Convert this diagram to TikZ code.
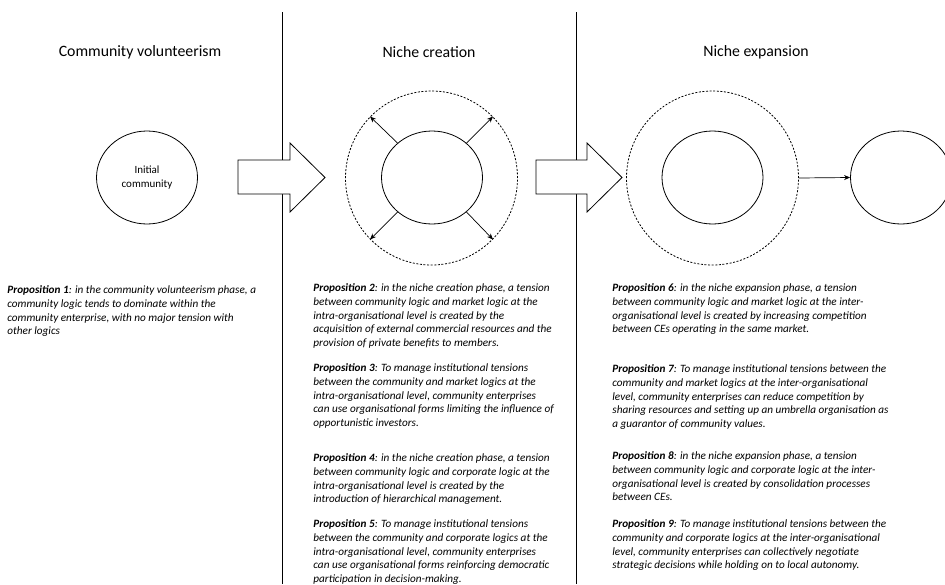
\documentclass[tikz,border=0pt]{standalone}
\usepackage{fontspec}
\setmainfont{Carlito}
\usetikzlibrary{shapes.geometric,arrows.meta}
\begin{document}
\begin{tikzpicture}[x=1pt,y=-1pt,
  line width=0.8pt,
  title/.style={font=\fontsize{15.8}{18}\selectfont, inner sep=0pt},
  prop/.style={anchor=north west, inner sep=0pt, align=left, font=\fontsize{11.2}{13.65}\selectfont\itshape},
  circ/.style={draw, ellipse, minimum width=101pt, minimum height=93pt, inner sep=0pt},
  dcirc/.style={draw, ellipse, dash pattern=on 2pt off 1.6pt, minimum width=172pt, minimum height=174pt, inner sep=0pt},
  growarrow/.style={-{Stealth[length=6pt,width=5pt]}, line width=0.7pt},
  blockarrow/.style={draw, fill=white, line width=0.8pt}
]
\useasboundingbox (0,0) rectangle (945,584);
% divider lines
\coordinate (l1t) at (282,12); \coordinate (l1b) at (282,584);
\coordinate (l2t) at (576,12); \coordinate (l2b) at (576,584);
\draw (l1t) -- (l1b);
\draw (l2t) -- (l2b);
% titles
\node[title] (t1) at (140,52) {Community volunteerism};
\node[title] (t2) at (429,52) {Niche creation};
\node[title] (t3) at (756,52) {Niche expansion};
% phase 1
\node[circ, align=center, font=\fontsize{11}{14}\selectfont] (ic) at (147,177.5) {Initial\\community};
% block arrows
\draw[blockarrow] (238,160) -- (290,160) -- (290,143) -- (325,177.5) -- (290,212) -- (290,194) -- (238,194) -- cycle;
\draw[blockarrow] (536,160) -- (587,160) -- (587,143) -- (622,177.5) -- (587,212) -- (587,194) -- (536,194) -- cycle;
% phase 2
\node[dcirc] (oc) at (431.5,178) {};
\node[circ] (cc) at (432,177.5) {};
\draw[growarrow] (cc.135) -- (oc.135);
\draw[growarrow] (cc.45) -- (oc.45);
\draw[growarrow] (cc.225) -- (oc.225);
\draw[growarrow] (cc.315) -- (oc.315);
% phase 3
\node[dcirc] (oe) at (712.5,178) {};
\node[circ] (ce) at (712.5,177.5) {};
\node[circ] (rc) at (901,177.5) {};
\draw[growarrow] (oe.east) -- (rc.west);
% propositions
\node[prop] (p1) at (7,285.5) {\textbf{Proposition 1}: in the community volunteerism phase, a\\community logic tends to dominate within the\\community enterprise, with no major tension with\\other logics};
\node[prop] (p2) at (313,283.7) {\textbf{Proposition 2}: in the niche creation phase, a tension\\between community logic and market logic at the\\intra-organisational level is created by the\\acquisition of external commercial resources and the\\provision of private benefits to members.};
\node[prop] (p3) at (313,363.7) {\textbf{Proposition 3}: To manage institutional tensions\\between the community and market logics at the\\intra-organisational level, community enterprises\\can use organisational forms limiting the influence of\\opportunistic investors.};
\node[prop] (p4) at (313,453.7) {\textbf{Proposition 4}: in the niche creation phase, a tension\\between community logic and corporate logic at the\\intra-organisational level is created by the\\introduction of hierarchical management.};
\node[prop] (p5) at (313,519.7) {\textbf{Proposition 5}: To manage institutional tensions\\between the community and corporate logics at the\\intra-organisational level, community enterprises\\can use organisational forms reinforcing democratic\\participation in decision-making.};
\node[prop] (p6) at (612,283.7) {\textbf{Proposition 6}: in the niche expansion phase, a tension\\between community logic and market logic at the inter-\\organisational level is created by increasing competition\\between CEs operating in the same market.};
\node[prop] (p7) at (612,364.7) {\textbf{Proposition 7}: To manage institutional tensions between the\\community and market logics at the inter-organisational\\level, community enterprises can reduce competition by\\sharing resources and setting up an umbrella organisation as\\a guarantor of community values.};
\node[prop] (p8) at (612,451.7) {\textbf{Proposition 8}: in the niche expansion phase, a tension\\between community logic and corporate logic at the inter-\\organisational level is created by consolidation processes\\between CEs.};
\node[prop] (p9) at (612,519.7) {\textbf{Proposition 9}: To manage institutional tensions between the\\community and corporate logics at the inter-organisational\\level, community enterprises can collectively negotiate\\strategic decisions while holding on to local autonomy.};
\end{tikzpicture}
\end{document}
